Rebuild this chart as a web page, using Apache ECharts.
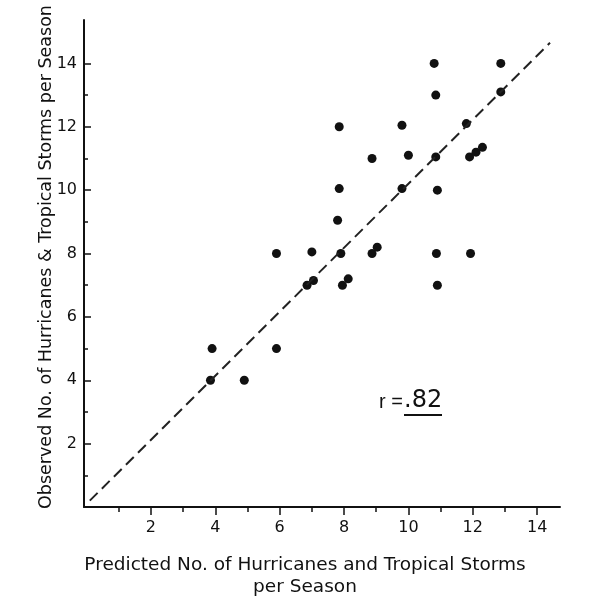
<!DOCTYPE html>
<html>
<head>
<meta charset="utf-8">
<style>
  html, body { margin: 0; padding: 0; background: #fff; }
  #chart { width: 595px; height: 603px; }
</style>
<script src="https://cdn.jsdelivr.net/npm/echarts@6/dist/echarts.min.js"></script>
</head>
<body>
<div id="chart"></div>
<script>
// predicted (x) vs observed (y) storms per season
var predicted = [3.85, 3.9, 4.9, 5.9, 5.9, 6.85, 7.05, 7.0, 7.9, 7.95, 8.13, 7.8, 7.85, 7.85,
    8.87, 9.03, 8.87, 9.8, 9.8, 10.0, 10.85, 10.9, 10.87, 10.9, 10.85, 10.8,
    11.8, 11.9, 12.1, 12.3, 11.93, 12.87, 12.87];
var observed = [4.0, 5.0, 4.0, 5.0, 8.0, 7.0, 7.15, 8.05, 8.0, 7.0, 7.2, 9.05, 10.05, 12.0,
    8.0, 8.2, 11.0, 10.05, 12.05, 11.1, 11.05, 10.0, 8.0, 7.0, 13.0, 14.0,
    12.1, 11.05, 11.2, 11.35, 8.0, 13.1, 14.0];

// dashed reference line
var lineX = [0.1, 14.4];
var lineY = [0.2, 14.65];

var majorTicks = [2, 4, 6, 8, 10, 12, 14];
var minorTicks = [1, 3, 5, 7, 9, 11, 13];

var xTitle = "Predicted No. of Hurricanes and Tropical Storms\nper Season";
var yTitle = "Observed No. of Hurricanes & Tropical Storms per Season";
var rText = "r =";
var rValue = ".82";

var FONT = "'DejaVu Sans', sans-serif";
var INK = "#111";

var points = predicted.map(function (x, i) {
    return [x, observed[i]];
});
var refLine = lineX.map(function (x, i) {
    return [x, lineY[i]];
});

function axisPair(dim, isMajor) {
    return {
        type: "value",
        min: dim === "x" ? -0.08 : 0,
        max: dim === "x" ? 14.71 : 15.37,
        position: dim === "x" ? "bottom" : "left",
        splitLine: { show: false },
        axisLine: {
            show: isMajor,
            onZero: false,
            lineStyle: { color: INK, width: 2 }
        },
        axisTick: {
            show: true,
            inside: dim === "y",
            length: isMajor ? (dim === "x" ? 8 : 7) : (dim === "x" ? 5 : 4),
            customValues: isMajor ? majorTicks : minorTicks,
            lineStyle: { color: INK, width: 1.5 }
        },
        axisLabel: {
            show: isMajor,
            customValues: majorTicks,
            color: INK,
            fontFamily: FONT,
            fontSize: 16,
            margin: dim === "x" ? 13 : 7
        }
    };
}

var c = echarts.init(document.getElementById("chart"));

var option = {
    animation: false,
    backgroundColor: "#fff",
    textStyle: { fontFamily: FONT },
    grid: { left: 84, right: 35, top: 20, bottom: 96 },
    xAxis: [axisPair("x", true), axisPair("x", false)],
    yAxis: [axisPair("y", true), axisPair("y", false)],
    series: [{
        type: "line",
        data: refLine,
        symbol: "none",
        silent: true,
        lineStyle: { color: "#222", width: 2, type: [11, 6] }
    }, {
        type: "scatter",
        data: points,
        symbol: "circle",
        symbolSize: 9,
        itemStyle: { color: INK, opacity: 1 }
    }],
    graphic: [{
        type: "text",
        x: 305,
        y: 576,
        style: {
            text: xTitle,
            fill: INK,
            font: "18.5px " + FONT,
            align: "center",
            verticalAlign: "middle",
            lineHeight: 22
        }
    }, {
        type: "text",
        x: 46,
        y: 257,
        rotation: Math.PI / 2,
        style: {
            text: yTitle,
            fill: INK,
            font: "17.5px " + FONT,
            align: "center",
            verticalAlign: "middle"
        }
    }, {
        type: "text",
        x: 379,
        y: 402,
        style: {
            text: rText,
            fill: INK,
            font: "20px 'Liberation Sans', sans-serif",
            verticalAlign: "middle"
        }
    }, {
        type: "text",
        x: 404,
        y: 401,
        style: {
            text: rValue,
            fill: INK,
            font: "24px " + FONT,
            verticalAlign: "middle"
        }
    }, {
        type: "line",
        shape: { x1: 404, y1: 415, x2: 442, y2: 415 },
        style: { stroke: INK, lineWidth: 2 }
    }]
};

c.setOption(option);
</script>
</body>
</html>
